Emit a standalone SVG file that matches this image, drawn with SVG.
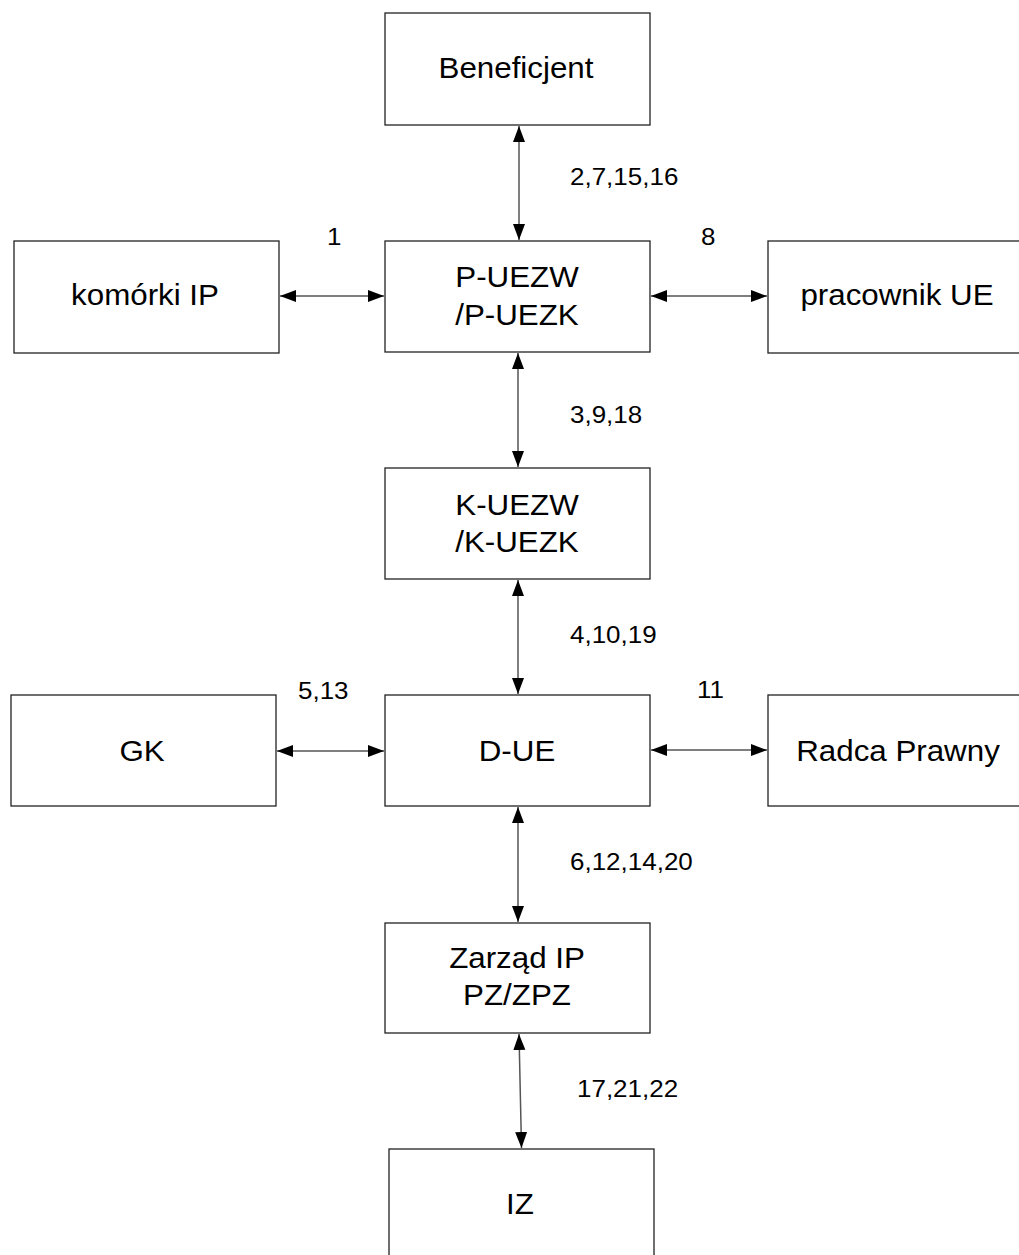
<svg xmlns="http://www.w3.org/2000/svg" width="1019" height="1255" viewBox="0 0 1019 1255">
<style>
.box{fill:#fff;stroke:#222;stroke-width:1.3}
.t{font-family:"Liberation Sans",Arial,sans-serif;font-size:29px;fill:#000;text-anchor:middle}
.l{font-family:"Liberation Sans",Arial,sans-serif;font-size:23px;fill:#000}
.c{stroke:#555;stroke-width:1.5;fill:none;marker-start:url(#ah);marker-end:url(#ah)}
</style>
<defs>
<marker id="ah" markerUnits="userSpaceOnUse" markerWidth="17" markerHeight="13" refX="16" refY="6.5" orient="auto-start-reverse">
<path d="M0,0.5 L16,6.5 L0,12.5 z" fill="#000"/>
</marker>
</defs>
<rect width="1019" height="1255" fill="#fff"/>
<g id="connectors">
<line class="c" x1="519" y1="126" x2="519" y2="240"/>
<line class="c" x1="280" y1="296" x2="384" y2="296"/>
<line class="c" x1="651" y1="296" x2="767" y2="296"/>
<line class="c" x1="518" y1="353" x2="518" y2="467"/>
<line class="c" x1="518" y1="580" x2="518" y2="694"/>
<line class="c" x1="277" y1="751" x2="384" y2="751"/>
<line class="c" x1="651" y1="750" x2="767" y2="750"/>
<line class="c" x1="518" y1="807" x2="518" y2="922"/>
<line class="c" x1="519" y1="1034" x2="521.5" y2="1148"/>
</g>
<g id="labels">
<text class="l" transform="translate(327 245) scale(1.13 1)">1</text>
<text class="l" transform="translate(701 245) scale(1.13 1)">8</text>
<text class="l" transform="translate(570 185) scale(1.13 1)">2,7,15,16</text>
<text class="l" transform="translate(570 423) scale(1.13 1)">3,9,18</text>
<text class="l" transform="translate(570 643) scale(1.13 1)">4,10,19</text>
<text class="l" transform="translate(298 699) scale(1.13 1)">5,13</text>
<text class="l" transform="translate(697 698) scale(1.13 1)">11</text>
<text class="l" transform="translate(570 870) scale(1.13 1)">6,12,14,20</text>
<text class="l" transform="translate(577 1097) scale(1.13 1)">17,21,22</text>
</g>
<g id="beneficjent">
<rect class="box" x="385" y="13" width="265" height="112"/>
<text class="t" transform="translate(516 78) scale(1.08 1)">Beneficjent</text>
</g>
<g id="komorki-ip">
<rect class="box" x="14" y="241" width="265" height="112"/>
<text class="t" transform="translate(145 305) scale(1.08 1)">komórki IP</text>
</g>
<g id="p-uezw">
<rect class="box" x="385" y="241" width="265" height="111"/>
<text class="t" transform="translate(517 287) scale(1.08 1)">P-UEZW</text>
<text class="t" transform="translate(517 325) scale(1.08 1)">/P-UEZK</text>
</g>
<g id="pracownik-ue">
<rect class="box" x="768" y="241" width="265" height="112"/>
<text class="t" transform="translate(897 305) scale(1.08 1)">pracownik UE</text>
</g>
<g id="k-uezw">
<rect class="box" x="385" y="468" width="265" height="111"/>
<text class="t" transform="translate(517 515) scale(1.08 1)">K-UEZW</text>
<text class="t" transform="translate(517 552) scale(1.08 1)">/K-UEZK</text>
</g>
<g id="gk">
<rect class="box" x="11" y="695" width="265" height="111"/>
<text class="t" transform="translate(142 761) scale(1.08 1)">GK</text>
</g>
<g id="d-ue">
<rect class="box" x="385" y="695" width="265" height="111"/>
<text class="t" transform="translate(517 761) scale(1.08 1)">D-UE</text>
</g>
<g id="radca-prawny">
<rect class="box" x="768" y="695" width="265" height="111"/>
<text class="t" transform="translate(898 761) scale(1.08 1)">Radca Prawny</text>
</g>
<g id="zarzad-ip">
<rect class="box" x="385" y="923" width="265" height="110"/>
<text class="t" transform="translate(517 968) scale(1.08 1)">Zarząd IP</text>
<text class="t" transform="translate(517 1005) scale(1.08 1)">PZ/ZPZ</text>
</g>
<g id="iz">
<rect class="box" x="389" y="1149" width="265" height="120"/>
<text class="t" transform="translate(520 1214) scale(1.08 1)">IZ</text>
</g>
</svg>
